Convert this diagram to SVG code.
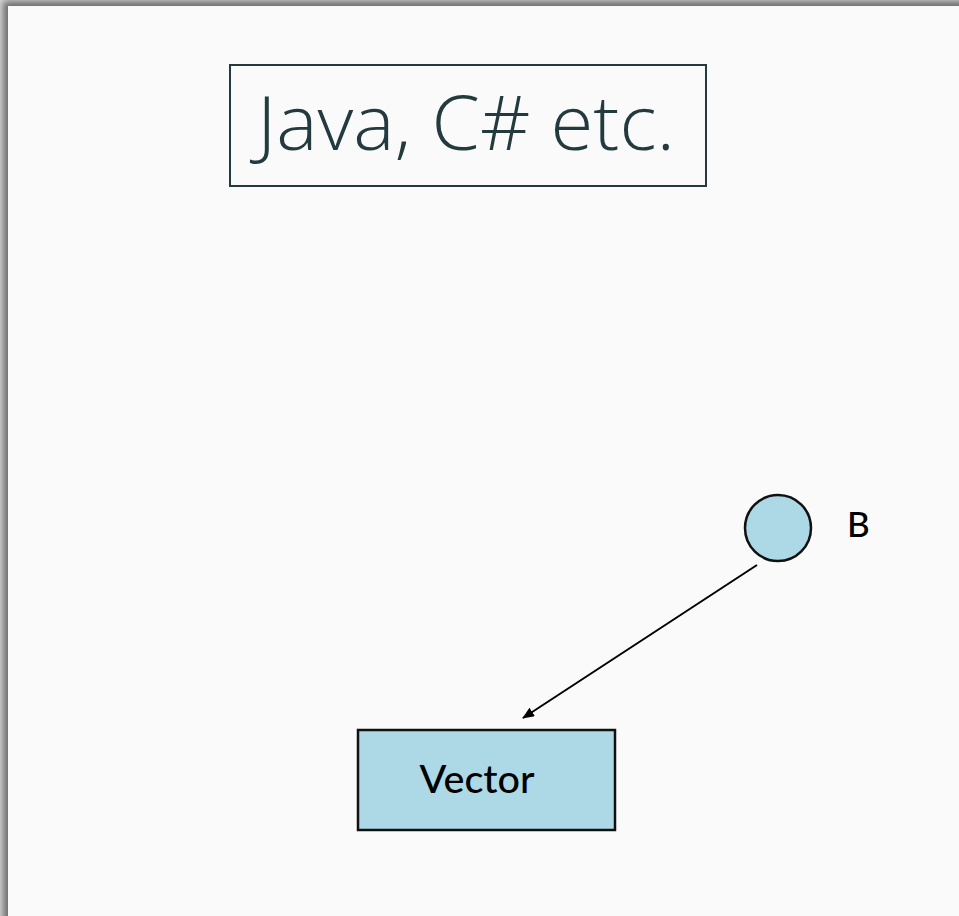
<svg xmlns="http://www.w3.org/2000/svg" width="959" height="916" viewBox="0 0 959 916">
  <defs>
    <filter id="slideShadow" x="-5%" y="-5%" width="110%" height="110%">
      <feGaussianBlur stdDeviation="3.5"/>
    </filter>
    <marker id="arrow" markerWidth="12" markerHeight="10" refX="11" refY="5" orient="auto" markerUnits="userSpaceOnUse">
      <path d="M0,0 L12,5 L0,10 Z" fill="#000"/>
    </marker>
    <style>
      .node { fill: #add8e6; stroke: #111; stroke-width: 2.5; }
      .label { font-family: Lato, "Open Sans", sans-serif; font-weight: 500; fill: #000; }
      .title { font-family: "Open Sans", "Noto Sans", sans-serif; font-weight: 350; fill: #233a3e; }
      .edge { stroke: #000; stroke-width: 2; fill: none; }
    </style>
  </defs>

  <!-- page backdrop with a soft drop shadow on top and left -->
  <rect x="0" y="0" width="959" height="916" fill="#d8d8d8"/>
  <rect x="3" y="1" width="980" height="940" fill="#6e6e6e" filter="url(#slideShadow)"/>
  <rect x="8" y="6" width="951" height="910" fill="#fafafa"/>

  <g id="title">
    <rect x="230" y="65" width="476" height="121" fill="none" stroke="#233a3e" stroke-width="2"/>
    <text class="title" x="466" y="150" font-size="76" text-anchor="middle" textLength="418" lengthAdjust="spacingAndGlyphs">Java, C# etc.</text>
  </g>

  <g id="node-b">
    <circle class="node" cx="778" cy="528" r="33"/>
    <text class="label" x="847" y="537" font-size="35">B</text>
  </g>

  <g id="node-vector">
    <rect class="node" x="358" y="730" width="257" height="100"/>
    <text class="label" x="477" y="793" font-size="39" text-anchor="middle" textLength="115" lengthAdjust="spacingAndGlyphs">Vector</text>
  </g>

  <g id="connectors">
    <line class="edge" x1="757" y1="565" x2="523" y2="718" marker-end="url(#arrow)"/>
  </g>
</svg>
